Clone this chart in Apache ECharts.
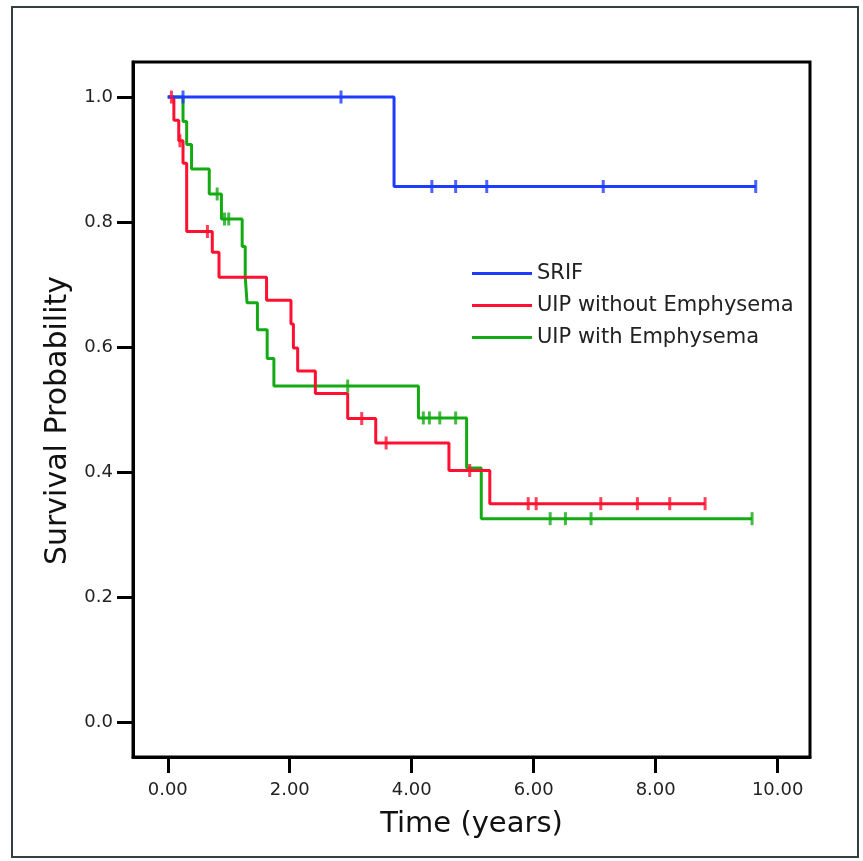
<!DOCTYPE html>
<html>
<head>
<meta charset="utf-8">
<script src="https://cdn.jsdelivr.net/npm/echarts@6/dist/echarts.min.js"></script>
<style>
html,body{margin:0;padding:0;background:#fff;}
#chart{width:863px;height:861px;}
</style>
</head>
<body>
<div id="chart"></div>
<script>
// ---- data ----
var seriesNames = ['SRIF', 'UIP without Emphysema', 'UIP with Emphysema'];

// SRIF
var srifEventTimes = [3.71];
var srifEventSurv  = [0.857];
var srifCensorTimes = [0.25, 2.84, 4.33, 4.72, 5.23, 7.14, 9.64];

// UIP without Emphysema
var uipNoEventTimes = [0.10, 0.18, 0.25, 0.31, 0.73, 0.84, 1.62, 2.02, 2.06, 2.13, 2.42, 2.95, 3.41, 4.61, 5.28];
var uipNoEventSurv  = [0.963, 0.930, 0.894, 0.785, 0.752, 0.712, 0.675, 0.637, 0.599, 0.562, 0.526, 0.486, 0.447, 0.403, 0.350];
var uipNoCensorTimes = [0.06, 0.20, 0.65, 3.18, 3.58, 4.95, 5.91, 6.04, 7.10, 7.70, 8.23, 8.81];

// UIP with Emphysema
var uipEmEventTimes = [0.25, 0.31, 0.39, 0.68, 0.88, 1.22, 1.27, 1.30, 1.47, 1.63, 1.74, 4.11, 4.90, 5.14];
var uipEmEventSurv  = [0.961, 0.924, 0.885, 0.845, 0.805, 0.761, 0.713, 0.671, 0.628, 0.582, 0.538, 0.487, 0.407, 0.326];
var uipEmCensorTimes = [0.81, 0.93, 1.00, 2.95, 4.19, 4.29, 4.46, 4.72, 6.27, 6.52, 6.94, 9.58];

var xTicks = [0, 2, 4, 6, 8, 10];
var yTicks = [0, 0.2, 0.4, 0.6, 0.8, 1.0];

var colors = {
  'SRIF': '#1e3cff',
  'UIP without Emphysema': '#ff1030',
  'UIP with Emphysema': '#14aa14'
};

// ---- helpers ----
function survAt(times, surv, t) {
  var s = 1.0;
  for (var i = 0; i < times.length; i++) { if (times[i] <= t) s = surv[i]; }
  return s;
}
function stepData(times, surv, censors) {
  var d = [[0, 1.0]];
  for (var i = 0; i < times.length; i++) d.push([times[i], surv[i]]);
  var lastT = Math.max(times[times.length - 1], censors[censors.length - 1]);
  d.push([lastT, survAt(times, surv, lastT)]);
  return d;
}
function censorData(times, surv, censors) {
  return censors.map(function (t) { return [t, survAt(times, surv, t)]; });
}

var groups = [
  { name: 'UIP with Emphysema', t: uipEmEventTimes, s: uipEmEventSurv, c: uipEmCensorTimes },
  { name: 'UIP without Emphysema', t: uipNoEventTimes, s: uipNoEventSurv, c: uipNoCensorTimes },
  { name: 'SRIF', t: srifEventTimes, s: srifEventSurv, c: srifCensorTimes }
];

var series = [];
groups.forEach(function (g) {
  series.push({
    name: g.name,
    type: 'line',
    step: 'end',
    data: stepData(g.t, g.s, g.c),
    showSymbol: false,
    symbol: 'none',
    lineStyle: { color: colors[g.name], width: 3 },
    itemStyle: { color: colors[g.name] },
    animation: false,
    z: 2
  });
  series.push({
    name: g.name + ' censored',
    type: 'scatter',
    data: censorData(g.t, g.s, g.c),
    symbol: 'rect',
    symbolSize: [3, 13],
    itemStyle: { color: colors[g.name] },
    animation: false,
    z: 3
  });
});

var chart = echarts.init(document.getElementById('chart'), null, { renderer: 'canvas' });
chart.setOption({
  backgroundColor: '#ffffff',
  animation: false,
  textStyle: { fontFamily: 'DejaVu Sans' },
  grid: {
    left: 133, right: 53, top: 62, bottom: 104,
    show: true, borderColor: '#000', borderWidth: 3, backgroundColor: '#fff'
  },
  legend: {
    data: seriesNames,
    orient: 'vertical',
    left: 467,
    top: 258,
    itemWidth: 60,
    itemHeight: 3,
    itemGap: 11,
    icon: 'rect',
    textStyle: { fontFamily: 'DejaVu Sans', fontSize: 21, color: '#222' },
    selectedMode: false
  },
  xAxis: {
    type: 'value',
    min: -0.57,
    max: 10.53,
    name: 'Time (years)',
    nameLocation: 'middle',
    nameGap: 53,
    nameTextStyle: { fontFamily: 'DejaVu Sans', fontSize: 29, color: '#111' },
    axisLine: { show: true, onZero: false, lineStyle: { color: '#000', width: 3 } },
    axisTick: { show: true, inside: false, length: 16, customValues: xTicks, lineStyle: { color: '#000', width: 3 } },
    axisLabel: {
      customValues: xTicks, margin: 24, fontFamily: 'DejaVu Sans', fontSize: 18, color: '#222',
      formatter: function (v) { return v.toFixed(2); }
    },
    splitLine: { show: false }
  },
  yAxis: {
    type: 'value',
    min: -0.055,
    max: 1.056,
    name: 'Survival Probability',
    nameLocation: 'middle',
    nameGap: 58,
    nameRotate: 90,
    nameTextStyle: { fontFamily: 'DejaVu Sans', fontSize: 30, color: '#111', padding: [0, 22, 0, 0] },
    axisLine: { show: true, onZero: false, lineStyle: { color: '#000', width: 3 } },
    axisTick: { show: true, inside: false, length: 16, customValues: yTicks, lineStyle: { color: '#000', width: 3 } },
    axisLabel: {
      customValues: yTicks, margin: 20, fontFamily: 'DejaVu Sans', fontSize: 18, color: '#222',
      formatter: function (v) { return v.toFixed(1); }
    },
    splitLine: { show: false }
  },
  graphic: [{
    type: 'rect',
    silent: true,
    shape: { x: 12, y: 7, width: 846, height: 850 },
    style: { fill: 'none', stroke: '#34403f', lineWidth: 2 },
    z: 100
  }],
  series: series
});
</script>
</body>
</html>
